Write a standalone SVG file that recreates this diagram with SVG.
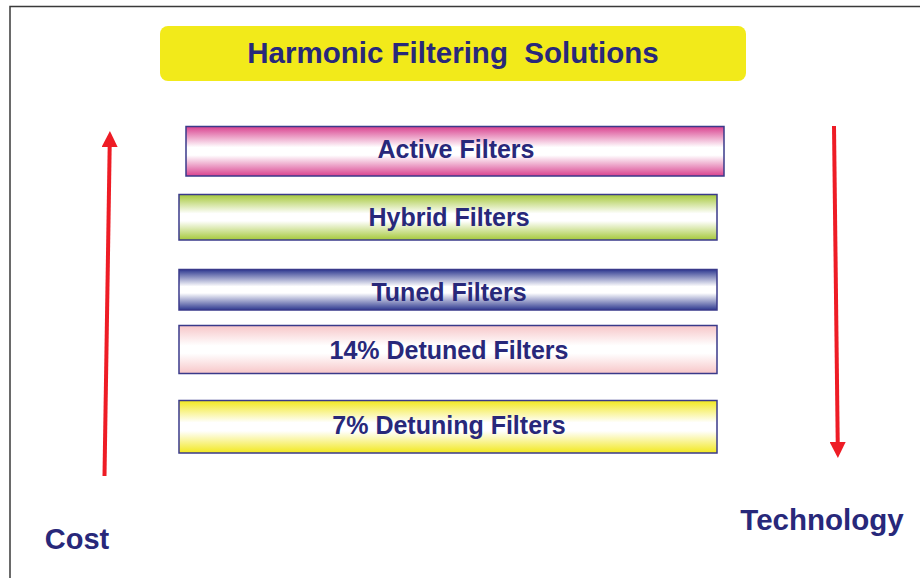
<svg xmlns="http://www.w3.org/2000/svg" width="920" height="578" viewBox="0 0 920 578">
<style>
.lbl{font-family:"Liberation Sans",Arial,sans-serif;font-weight:bold;fill:#28287A;text-anchor:middle;white-space:pre}
.bar{stroke:#3A3A8A;stroke-width:1.5}
.arr{stroke:#EE1C25;stroke-width:4;fill:none}
</style>
<defs>
<linearGradient id="gPink" x1="0" y1="0" x2="0" y2="1"><stop offset="0" stop-color="#D9428F"/><stop offset="0.42" stop-color="#FFFFFF"/><stop offset="0.58" stop-color="#FFFFFF"/><stop offset="1" stop-color="#D9428F"/></linearGradient>
<linearGradient id="gGreen" x1="0" y1="0" x2="0" y2="1"><stop offset="0" stop-color="#A5C83A"/><stop offset="0.42" stop-color="#FFFFFF"/><stop offset="0.58" stop-color="#FFFFFF"/><stop offset="1" stop-color="#A5C83A"/></linearGradient>
<linearGradient id="gBlue" x1="0" y1="0" x2="0" y2="1"><stop offset="0" stop-color="#2E3990"/><stop offset="0.42" stop-color="#FFFFFF"/><stop offset="0.58" stop-color="#FFFFFF"/><stop offset="1" stop-color="#2E3990"/></linearGradient>
<linearGradient id="gRose" x1="0" y1="0" x2="0" y2="1"><stop offset="0" stop-color="#F7C6C8"/><stop offset="0.42" stop-color="#FFFFFF"/><stop offset="0.58" stop-color="#FFFFFF"/><stop offset="1" stop-color="#F7C6C8"/></linearGradient>
<linearGradient id="gYel" x1="0" y1="0" x2="0" y2="1"><stop offset="0" stop-color="#F2E81E"/><stop offset="0.42" stop-color="#FFFFFF"/><stop offset="0.58" stop-color="#FFFFFF"/><stop offset="1" stop-color="#F2E81E"/></linearGradient>
<marker id="ah" markerWidth="4" markerHeight="4" refX="2" refY="2" orient="auto" markerUnits="strokeWidth"><path d="M0,0 L4,2 L0,4 Z" fill="#EE1C25"/></marker>
</defs>
<rect width="920" height="578" fill="#FFFFFF"/>
<path d="M10,578 V6.5 H920" fill="none" stroke="#3A3A3A" stroke-width="1.5"/>
<g id="title"><rect x="160" y="26" width="586" height="55" rx="8" fill="#F2EA1A"/><text class="lbl" x="453" y="63" font-size="29.5" xml:space="preserve">Harmonic Filtering  Solutions</text></g>
<g id="active"><rect class="bar" x="186" y="126.5" width="538" height="49.5" fill="url(#gPink)"/><text class="lbl" x="456" y="158" font-size="25">Active Filters</text></g>
<g id="hybrid"><rect class="bar" x="179" y="194.5" width="538" height="45.5" fill="url(#gGreen)"/><text class="lbl" x="449" y="225.5" font-size="25">Hybrid Filters</text></g>
<g id="tuned"><rect class="bar" x="179" y="269.5" width="538" height="40.5" fill="url(#gBlue)"/><text class="lbl" x="449" y="301" font-size="25">Tuned Filters</text></g>
<g id="detuned14"><rect class="bar" x="179" y="325.5" width="538" height="48" fill="url(#gRose)"/><text class="lbl" x="449" y="358.5" font-size="25">14% Detuned Filters</text></g>
<g id="detuning7"><rect class="bar" x="179" y="400.5" width="538" height="52.5" fill="url(#gYel)"/><text class="lbl" x="449" y="433.5" font-size="25">7% Detuning Filters</text></g>
<g id="connectors">
<line class="arr" x1="104.5" y1="476" x2="109.8" y2="139" marker-end="url(#ah)"/>
<line class="arr" x1="834" y1="126" x2="837.8" y2="450" marker-end="url(#ah)"/>
</g>
<g id="cost"><text class="lbl" x="77" y="549" font-size="29">Cost</text></g>
<g id="technology"><text class="lbl" x="822" y="530" font-size="29.5">Technology</text></g>
</svg>
